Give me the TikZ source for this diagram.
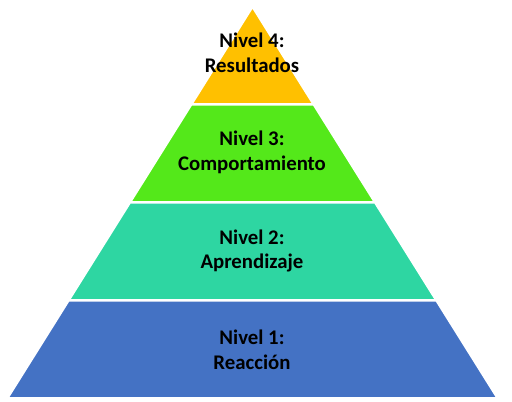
\documentclass[tikz,border=0pt]{standalone}
\usepackage{fontspec}
\setmainfont{Carlito}
\usepackage{tikz}
\usetikzlibrary{calc}

\definecolor{lvlone}{RGB}{68,114,196}
\definecolor{lvltwo}{RGB}{46,214,162}
\definecolor{lvlthree}{RGB}{84,232,26}
\definecolor{lvlfour}{RGB}{255,192,0}

\begin{document}
\begin{tikzpicture}[x=1pt,y=1pt]

    \tikzstyle{tier}=[draw=white, line width=2.5pt, line join=miter]
    \tikzstyle{label}=[text=black, align=center, font=\fontsize{20.8}{24.5}\selectfont\bfseries]

    \useasboundingbox (0,0) rectangle (512,402);

    \coordinate (top) at (252.5,395.5);
    \coordinate (bl)  at (7.2,3.7);
    \coordinate (br)  at (497.8,3.7);

    % pyramid, top band first
    \foreach \a/\b/\col in {0/0.25/lvlfour, 0.25/0.5/lvlthree, 0.5/0.75/lvltwo, 0.75/1/lvlone}
        \filldraw[tier, fill=\col] ($(top)!\a!(bl)$) -- ($(top)!\b!(bl)$)
            -- ($(top)!\b!(br)$) -- ($(top)!\a!(br)$) -- cycle;

    \node[label] (n4) at (252,349)   {Nivel 4:\\Resultados};
    \node[label] (n3) at (252,249.5) {Nivel 3:\\Comportamiento};
    \node[label] (n2) at (252,151)   {Nivel 2:\\Aprendizaje};
    \node[label] (n1) at (252,52)    {Nivel 1:\\Reacción};

\end{tikzpicture}
\end{document}
